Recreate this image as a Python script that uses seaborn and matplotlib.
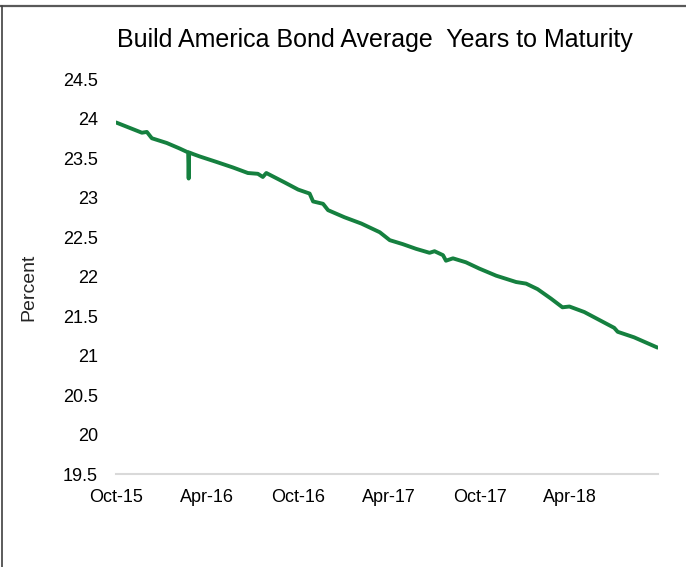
import matplotlib
matplotlib.use("Agg")
import matplotlib.pyplot as plt
from matplotlib.lines import Line2D
import pandas as pd
import seaborn as sns

# ---- data ----
dates = [
    "2015-10-01", "2015-10-29", "2015-11-22", "2015-12-02", "2015-12-12",
    "2016-01-11", "2016-02-06", "2016-02-23", "2016-02-24", "2016-02-25",
    "2016-03-04", "2016-03-17", "2016-04-20", "2016-05-23", "2016-06-22",
    "2016-07-12", "2016-07-22", "2016-07-29", "2016-09-04", "2016-10-01",
    "2016-10-24", "2016-10-31", "2016-11-20", "2016-11-30", "2017-01-02",
    "2017-02-05", "2017-03-14", "2017-04-03", "2017-04-29", "2017-05-26",
    "2017-06-22", "2017-07-02", "2017-07-19", "2017-07-25", "2017-08-08",
    "2017-09-03", "2017-09-30", "2017-11-03", "2017-12-13", "2018-01-02",
    "2018-01-25", "2018-02-21", "2018-03-16", "2018-03-30", "2018-04-29",
    "2018-06-01", "2018-06-28", "2018-07-05", "2018-08-07", "2018-09-23",
]
years_to_maturity = [
    23.95, 23.88, 23.82, 23.83, 23.75,
    23.69, 23.62, 23.57, 23.24, 23.57,
    23.55, 23.52, 23.45, 23.38, 23.31,
    23.30, 23.26, 23.31, 23.19, 23.10,
    23.05, 22.95, 22.92, 22.84, 22.75,
    22.67, 22.56, 22.46, 22.41, 22.35,
    22.30, 22.32, 22.27, 22.20, 22.23,
    22.18, 22.10, 22.01, 21.93, 21.91,
    21.84, 21.72, 21.61, 21.62, 21.55,
    21.44, 21.35, 21.30, 21.23, 21.10,
]
y_ticks = [19.5, 20, 20.5, 21, 21.5, 22, 22.5, 23, 23.5, 24, 24.5]
y_tick_labels = ["19.5", "20", "20.5", "21", "21.5", "22", "22.5", "23", "23.5", "24", "24.5"]
x_tick_dates = ["2015-10-01", "2016-04-01", "2016-10-01", "2017-04-01", "2017-10-01", "2018-04-01"]
x_tick_labels = ["Oct-15", "Apr-16", "Oct-16", "Apr-17", "Oct-17", "Apr-18"]
title = "Build America Bond Average  Years to Maturity"
y_label = "Percent"

df = pd.DataFrame({"date": pd.to_datetime(dates), "value": years_to_maturity})

# ---- style ----
sns.set_theme(style="white")
plt.rcParams["font.family"] = ["Liberation Sans", "DejaVu Sans"]

W, H = 686, 567
fig = plt.figure(figsize=(W / 100, H / 100), dpi=100)
fig.patch.set_facecolor("white")

left_px, right_px, top_px, bottom_px = 116, 658, 79, 474
ax = fig.add_axes([left_px / W, 1 - bottom_px / H,
                   (right_px - left_px) / W, (bottom_px - top_px) / H])

sns.lineplot(data=df, x="date", y="value", ax=ax, color="#15803f",
             linewidth=2.8, solid_joinstyle="round", solid_capstyle="round")

ax.set_xlim(pd.Timestamp("2015-10-01"), pd.Timestamp("2018-09-24"))
ax.set_ylim(19.5, 24.5)
ax.set_yticks(y_ticks)
ax.set_yticklabels(y_tick_labels)
ax.set_xticks(pd.to_datetime(x_tick_dates))
ax.set_xticklabels(x_tick_labels)

ax.tick_params(axis="both", length=0, labelsize=13, colors="black")
ax.tick_params(axis="y", pad=13)
ax.tick_params(axis="x", pad=11)

for s in ["left", "right", "top"]:
    ax.spines[s].set_visible(False)
ax.spines["bottom"].set_color("#d9d9d9")
ax.spines["bottom"].set_linewidth(1.5)
ax.grid(False)

ax.set_xlabel("")
ax.set_ylabel(y_label, fontsize=14, va="center")
ax.yaxis.set_label_coords((29 - left_px) / (right_px - left_px), 0.473)

fig.suptitle(title, x=375 / W, y=1 - 40 / H, ha="center", va="center",
             fontsize=18, color="black")

# outer frame (top and left edges visible in the reference)
fig.add_artist(Line2D([0, 1], [1 - 5.5 / H, 1 - 5.5 / H], transform=fig.transFigure,
                      color="#595959", linewidth=1.6))
fig.add_artist(Line2D([2 / W, 2 / W], [0, 1 - 5.5 / H], transform=fig.transFigure,
                      color="#404040", linewidth=1.2))

fig.savefig("out.png", dpi=100, facecolor="white")
